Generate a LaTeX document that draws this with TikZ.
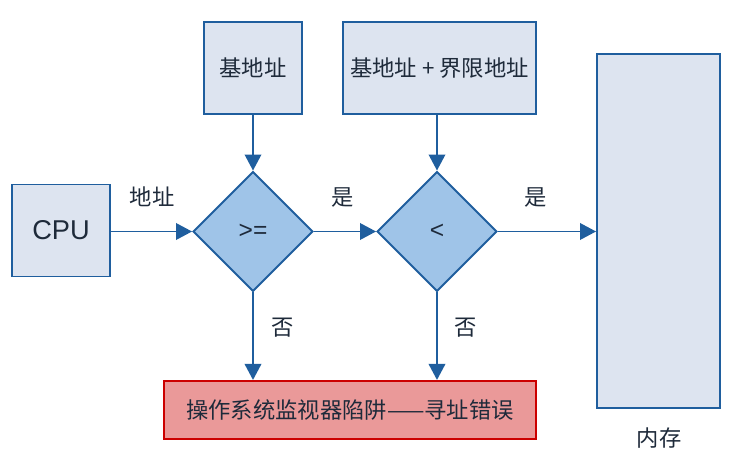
\documentclass[tikz,border=0pt]{standalone}
\usepackage{fontspec}
\setmainfont{Liberation Sans}
\newfontfamily\cjk{Noto Sans CJK SC}
\usetikzlibrary{arrows.meta,positioning,shapes.geometric}
\definecolor{edgeblue}{HTML}{1F5E9E}
\definecolor{boxfill}{HTML}{DDE4F0}
\definecolor{testfill}{HTML}{9FC4E8}
\definecolor{trapfill}{HTML}{EA9999}
\definecolor{trapred}{HTML}{CC0000}
\definecolor{ink}{HTML}{1E2A3A}
\tikzset{
    regbox/.style={draw=edgeblue,fill=boxfill,line width=1.1pt,inner sep=2pt,
      text=ink,font=\cjk\fontsize{12.7}{15}\selectfont,align=center},
    testnode/.style={diamond,aspect=1,draw=edgeblue,fill=testfill,line width=1.1pt,
      minimum width=2.4cm,minimum height=2.4cm,inner sep=0pt,
      text=ink,font=\fontsize{14}{16}\selectfont},
    trapbox/.style={draw=trapred,fill=trapfill,line width=1.2pt,
      minimum width=7.44cm,minimum height=1.16cm,inner sep=2pt,
      text=ink,font=\cjk\fontsize{12.7}{15}\selectfont},
    flowarrow/.style={-{Triangle[length=3.2mm,width=3.3mm]},draw=edgeblue,
      line width=1.1pt},
    branchlabel/.style={text=ink,font=\cjk\fontsize{12.7}{15}\selectfont}
}
\begin{document}
\begin{tikzpicture}[x=0.02cm,y=-0.02cm]
  \useasboundingbox (0,0) rectangle (752,462);
  % sources
  \node[regbox,minimum width=1.96cm,minimum height=1.84cm,
    font=\fontsize{15.5}{18}\selectfont] (cpu) at (61,230.5) {CPU};
  \node[regbox,minimum width=1.96cm,minimum height=1.84cm] (base) at (253,68) {基地址};
  \node[regbox,minimum width=3.86cm,minimum height=1.84cm] (limit) at (439.5,68) {基地址 + 界限地址};
  % checks
  \node[testnode] (ge) at (253,231.5) {>=};
  \node[testnode] (lt) at (437,231.5) {<};
  % targets
  \node[regbox,minimum width=2.46cm,minimum height=7.08cm] (mem) at (658.5,231) {};
  \node[branchlabel] (memlabel) at (659,438) {内存};
  \node[trapbox] (trap) at (350,410) {操作系统监视器陷阱——寻址错误};
  % flow
  \draw[flowarrow] (cpu.east |- ge) -- (ge);
  \draw[flowarrow] (ge) -- (lt);
  \draw[flowarrow] (lt) -- (lt -| mem.west);
  \draw[flowarrow] (base) -- (ge);
  \draw[flowarrow] (limit.south -| lt.north) -- (lt.north);
  \draw[flowarrow] (ge) -- (ge |- trap.north);
  \draw[flowarrow] (lt) -- (lt |- trap.north);
  \node[branchlabel] (addr) at (152,197) {地址};
  \node[branchlabel] (yes1) at (343,197) {是};
  \node[branchlabel] (yes2) at (536,197) {是};
  \node[branchlabel] (no1) at (283,328) {否};
  \node[branchlabel] (no2) at (466,328) {否};
\end{tikzpicture}
\end{document}
